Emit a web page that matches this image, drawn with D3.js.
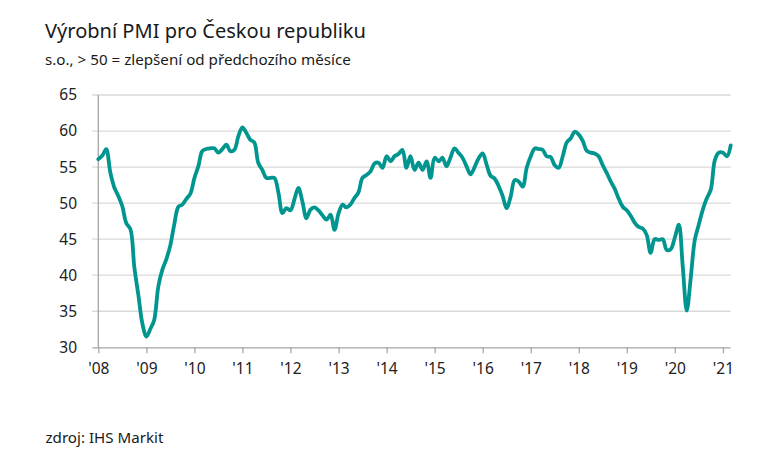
<!DOCTYPE html>
<html>
<head>
<meta charset="utf-8">
<script src="https://cdn.jsdelivr.net/npm/d3@7"></script>
<style>
  html, body { margin: 0; padding: 0; background: #fff; }
  svg { display: block; font-family: "Noto Sans", "Open Sans", sans-serif; }
</style>
</head>
<body>
<svg id="chart" width="768" height="468"></svg>
<script>
// ---- data ----
const title = "Výrobní PMI pro Českou republiku";
const subtitle = "s.o., > 50 = zlepšení od předchozího měsíce";
const source = "zdroj: IHS Markit";
const startMonth = "2008-01";
const pmi2008 = [56.1, 56.6, 57.5, 54.3, 52.2, 51.0, 49.6, 47.2, 46.4, 41.1, 37.2, 33.3];
const pmi2009 = [31.5, 32.6, 33.8, 38.4, 40.7, 42.2, 44.1, 47.1, 49.5, 49.8, 50.6, 51.3];
const pmi2010 = [53.5, 55.2, 57.2, 57.5, 57.6, 57.6, 57.0, 57.5, 58.1, 57.2, 57.4, 59.3];
const pmi2011 = [60.5, 59.7, 58.8, 58.4, 55.6, 54.6, 53.5, 53.5, 53.5, 51.5, 48.6, 49.3];
const pmi2012 = [49.0, 50.6, 52.1, 50.2, 47.9, 49.1, 49.4, 49.0, 48.3, 47.7, 48.4, 46.3];
const pmi2013 = [48.6, 49.8, 49.4, 49.8, 50.7, 51.5, 53.5, 53.9, 54.4, 55.5, 55.6, 54.9];
const pmi2014 = [56.5, 55.8, 56.5, 56.8, 57.4, 54.9, 56.5, 54.6, 55.6, 54.6, 55.8, 53.5];
const pmi2015 = [56.3, 55.8, 56.3, 55.1, 56.3, 57.6, 57.0, 56.3, 55.1, 54.0, 55.0, 56.2];
const pmi2016 = [56.9, 55.3, 53.8, 53.4, 52.4, 51.0, 49.3, 50.9, 53.2, 53.0, 52.3, 54.9];
const pmi2017 = [56.5, 57.6, 57.5, 57.4, 56.5, 56.4, 55.3, 54.9, 56.5, 58.4, 59.0, 59.9];
const pmi2018 = [59.5, 58.6, 57.3, 57.0, 56.9, 56.5, 55.3, 54.2, 53.0, 52.0, 50.6, 49.5];
const pmi2019 = [49.0, 48.2, 47.3, 46.7, 46.5, 45.6, 43.1, 45.0, 44.9, 45.0, 43.5, 43.6];
const pmi2020 = [45.2, 47.0, 41.3, 35.1, 39.6, 44.9, 47.0, 49.1, 50.7, 51.9, 56.0, 57.0];
const pmi2021 = [57.0, 56.5, 58.0];
const yTicks = [30, 35, 40, 45, 50, 55, 60, 65];
const xTickLabels = ["'08","'09","'10","'11","'12","'13","'14","'15","'16","'17","'18","'19","'20","'21"];

const values = [].concat(pmi2008, pmi2009, pmi2010, pmi2011, pmi2012, pmi2013, pmi2014,
  pmi2015, pmi2016, pmi2017, pmi2018, pmi2019, pmi2020, pmi2021);
const parse = d3.timeParse("%Y-%m");
const start = parse(startMonth);
const data = values.map((v, i) => ({ date: d3.timeMonth.offset(start, i), value: v }));

// ---- layout ----
const svg = d3.select("#chart");
const plot = { left: 98.3, right: 730.7, top: 95, bottom: 347.3 };

const x = d3.scaleTime()
  .domain([data[0].date, data[data.length - 1].date])
  .range([plot.left, plot.right]);
const y = d3.scaleLinear().domain([30, 65]).range([plot.bottom, plot.top]);

// gridlines (with left tick stubs)
svg.append("g").selectAll("line").data(yTicks.filter(t => t !== 30)).join("line")
  .attr("x1", plot.left - 6).attr("x2", plot.right)
  .attr("y1", d => y(d)).attr("y2", d => y(d))
  .attr("stroke", "#d9d9d9").attr("stroke-width", 1.3);

// y labels
svg.append("g").selectAll("text").data(yTicks).join("text")
  .attr("x", 77).attr("y", d => y(d)).attr("dy", "0.35em")
  .attr("text-anchor", "end").attr("font-size", 15.5).attr("fill", "#222")
  .text(d => d);

// y axis line
svg.append("line")
  .attr("x1", plot.left).attr("x2", plot.left)
  .attr("y1", plot.top).attr("y2", plot.bottom)
  .attr("stroke", "#a6a6a6").attr("stroke-width", 1.3);

// x axis
const yearTicks = d3.timeYear.range(data[0].date, d3.timeMonth.offset(data[data.length - 1].date, 1));
const xAxis = d3.axisBottom(x)
  .tickValues(yearTicks)
  .tickSize(6)
  .tickPadding(10)
  .tickFormat((d, i) => xTickLabels[i]);
const gx = svg.append("g")
  .attr("transform", `translate(0,${plot.bottom})`)
  .call(xAxis);
gx.select(".domain").attr("stroke", "#a6a6a6").attr("stroke-width", 1.3)
  .attr("d", `M${plot.left - 6},0.5H${plot.right}`);
gx.selectAll(".tick line").attr("stroke", "#a6a6a6").attr("stroke-width", 1.3);
gx.selectAll(".tick text").attr("font-size", 15.5).attr("fill", "#222")
  .attr("font-family", "Noto Sans, Open Sans, sans-serif");

// line
const line = d3.line()
  .x(d => x(d.date)).y(d => y(d.value))
  .curve(d3.curveCatmullRom.alpha(0.5));
svg.append("path").datum(data)
  .attr("d", line)
  .attr("fill", "none")
  .attr("stroke", "#00968f")
  .attr("stroke-width", 3.8)
  .attr("stroke-linejoin", "round")
  .attr("stroke-linecap", "round");

// texts, fitted to widths
function fitText(sel, width) {
  const w = sel.node().getComputedTextLength();
  const fs = parseFloat(sel.attr("font-size"));
  sel.attr("font-size", fs * width / w);
}
const t1 = svg.append("text").attr("x", 45).attr("y", 38)
  .attr("font-size", 20).attr("fill", "#1a1a1a").text(title);
fitText(t1, 321);
const t2 = svg.append("text").attr("x", 45).attr("y", 65)
  .attr("font-size", 14).attr("fill", "#1a1a1a").text(subtitle);
fitText(t2, 306);
const t3 = svg.append("text").attr("x", 45.5).attr("y", 443)
  .attr("font-size", 14).attr("fill", "#1a1a1a").text(source);
fitText(t3, 118);
</script>
</body>
</html>
